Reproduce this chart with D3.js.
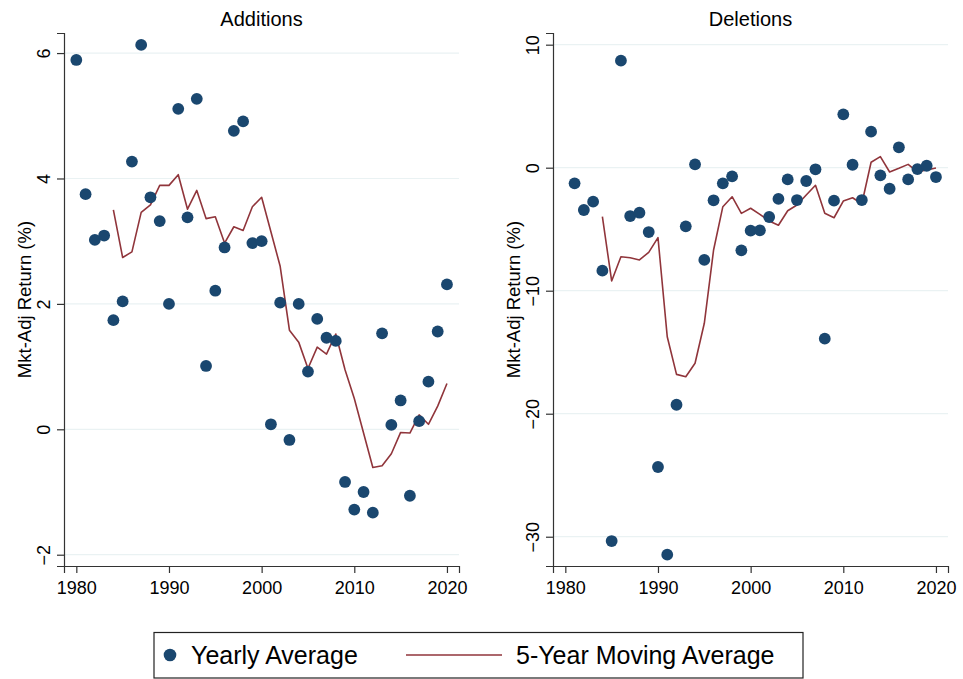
<!DOCTYPE html>
<html lang="en">
  <head>
    <meta charset="UTF-8" />
    <title>Index Additions and Deletions</title>
    <script src="https://d3js.org/d3.v7.min.js"></script>
    <style>
      body { margin: 0; background: #fff; }
      text { font-family: "Liberation Sans", Arial, sans-serif; fill: #000; }
    </style>
  </head>

  <body>
    <svg width="963" height="679"></svg>

    <script>
      // categories
      const addYears = d3.range(1980, 2021);
      const delYears = d3.range(1981, 2021);
      const maYears = d3.range(1984, 2021);

      // yearly averages
      const addYearly = [5.89, 3.75, 3.02, 3.09, 1.74, 2.04, 4.27, 6.13, 3.70, 3.32,
        2.00, 5.11, 3.38, 5.27, 1.01, 2.21, 2.90, 4.76, 4.91, 2.97,
        3.00, 0.08, 2.02, -0.17, 2.00, 0.92, 1.76, 1.46, 1.41, -0.84,
        -1.28, -1.00, -1.33, 1.53, 0.07, 0.46, -1.06, 0.13, 0.76, 1.56, 2.31];
      const delYearly = [-1.27, -3.44, -2.76, -8.37, -30.35, 8.70, -3.93, -3.66, -5.23,
        -24.33, -31.46, -19.27, -4.77, 0.27, -7.50, -2.65, -1.27, -0.70, -6.72,
        -5.12, -5.09, -4.01, -2.54, -0.95, -2.63, -1.08, -0.13, -13.90, -2.68,
        4.34, 0.24, -2.63, 2.93, -0.62, -1.71, 1.66, -0.95, -0.11, 0.16, -0.76];

      // 5-year moving averages
      const addMA = [3.50, 2.74, 2.83, 3.46, 3.58, 3.89, 3.89, 4.06, 3.51, 3.81,
        3.36, 3.39, 2.97, 3.23, 3.17, 3.55, 3.70, 3.15, 2.60, 1.58,
        1.39, 0.97, 1.31, 1.20, 1.52, 0.95, 0.49, -0.06, -0.61, -0.58,
        -0.39, -0.05, -0.06, 0.23, 0.08, 0.37, 0.73];
      const delMA = [-3.98, -9.21, -7.24, -7.32, -7.50, -6.88, -5.69, -13.74, -16.80, -16.99,
        -15.90, -12.65, -6.69, -3.17, -2.36, -3.71, -3.30, -3.79, -4.33, -4.68,
        -3.50, -3.03, -2.22, -1.43, -3.71, -4.07, -2.71, -2.44, -2.93, 0.44,
        0.90, -0.35, -0.05, 0.27, -0.33, -0.19, -0.02];

      // tick labels
      const xTicks = [1980, 1990, 2000, 2010, 2020];
      const addTicks = [-2, 0, 2, 4, 6];
      const delTicks = [-30, -20, -10, 0, 10];

      const dotColor = "#1a476f";
      const lineColor = "#90353b";
      const gridColor = "#eaf2f3";
      const axisColor = "#333";

      let svg = d3.select("svg");

      function plot_panel(p) {
        let x = d3.scaleLinear().domain([1978.67, 2021.3]).range([p.left, p.right]);
        let y = d3.scaleLinear().domain(p.yDomain).range([566, 33]);
        let g = svg.append("g");

        // gridlines
        g.selectAll(".grid")
          .data(p.yTicks)
          .enter()
          .append("line")
          .attr("x1", p.left)
          .attr("x2", p.right)
          .attr("y1", (d) => y(d))
          .attr("y2", (d) => y(d))
          .attr("stroke", gridColor)
          .attr("stroke-width", 1.2);

        // axes
        let yAxis = g.append("g")
          .attr("transform", `translate(${p.left},0)`)
          .call(d3.axisLeft(y).tickValues(p.yTicks).tickSize(7));
        // vertical tick labels, reading upwards
        yAxis.selectAll(".tick text")
          .attr("font-size", 18)
          .attr("transform", "rotate(-90)")
          .attr("x", 0)
          .attr("y", -14)
          .attr("dy", "0")
          .attr("text-anchor", "middle");

        let xAxis = g.append("g")
          .attr("transform", "translate(0,566)")
          .call(d3.axisBottom(x).tickValues(xTicks).tickFormat(d3.format("d")).tickSize(7).tickPadding(4));
        xAxis.selectAll("text").attr("font-size", 18).attr("dy", "0.95em");

        [yAxis, xAxis].forEach(function (a) {
          a.select(".domain").attr("stroke", axisColor).attr("stroke-width", 1.2);
          a.selectAll(".tick line").attr("stroke", axisColor).attr("stroke-width", 1.2);
        });

        // moving average line
        let line = d3.line()
          .x((d, i) => x(maYears[i]))
          .y((d) => y(d));
        g.append("path")
          .datum(p.ma)
          .attr("d", line)
          .attr("fill", "none")
          .attr("stroke", lineColor)
          .attr("stroke-width", 1.6)
          .attr("stroke-linejoin", "round");

        // yearly dots
        g.selectAll(".dot")
          .data(p.values)
          .enter()
          .append("circle")
          .attr("cx", (d, i) => x(p.years[i]))
          .attr("cy", (d) => y(d))
          .attr("r", 5.9)
          .attr("fill", dotColor);

        // titles
        g.append("text")
          .attr("x", (p.left + p.right) / 2)
          .attr("y", 26)
          .attr("text-anchor", "middle")
          .attr("font-size", 20)
          .text(p.title);

        g.append("text")
          .attr("transform", `translate(${p.left - 33},${(33 + 566) / 2}) rotate(-90)`)
          .attr("text-anchor", "middle")
          .attr("font-size", 18.5)
          .text("Mkt-Adj Return (%)");
      }

      plot_panel({ title: "Additions", left: 64, right: 459, yDomain: [-2.18, 6.32],
        yTicks: addTicks, years: addYears, values: addYearly, ma: addMA });
      plot_panel({ title: "Deletions", left: 553, right: 948, yDomain: [-32.38, 10.95],
        yTicks: delTicks, years: delYears, values: delYearly, ma: delMA });

      // legend
      let lg = svg.append("g");
      lg.append("rect")
        .attr("x", 154).attr("y", 632.5)
        .attr("width", 649).attr("height", 45.5)
        .attr("fill", "#fff")
        .attr("stroke", "#222")
        .attr("stroke-width", 1.2);
      lg.append("circle").attr("cx", 170).attr("cy", 655).attr("r", 6.3).attr("fill", dotColor);
      lg.append("text").attr("x", 191).attr("y", 664).attr("font-size", 25).text("Yearly Average");
      lg.append("line")
        .attr("x1", 406).attr("x2", 502).attr("y1", 655).attr("y2", 655)
        .attr("stroke", lineColor).attr("stroke-width", 1.6);
      lg.append("text").attr("x", 516).attr("y", 664).attr("font-size", 25).text("5-Year Moving Average");
    </script>
  </body>
</html>
